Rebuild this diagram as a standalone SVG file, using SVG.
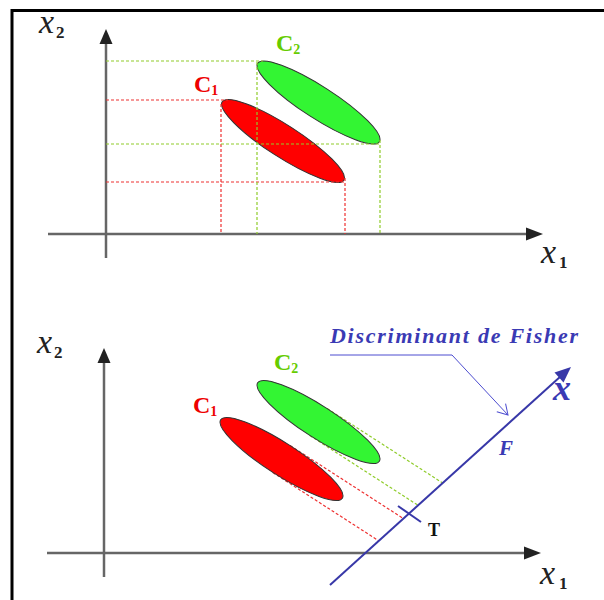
<svg xmlns="http://www.w3.org/2000/svg" width="604" height="600" viewBox="0 0 604 600">
<style>
.frame{stroke:#000;stroke-width:3;fill:none}
.axis{stroke:#666;stroke-width:2.5;fill:none}
.head{fill:#222}
.gd{stroke:#8fcc2a;stroke-width:1.2;stroke-dasharray:3,2;fill:none}
.rd{stroke:#ee3030;stroke-width:1.2;stroke-dasharray:3,2;fill:none}
.ge{fill:#33f533;stroke:#333;stroke-width:1}
.re{fill:#ff0000;stroke:#333;stroke-width:1}
.var{font-family:"Liberation Serif",serif;font-style:italic;font-size:34px;fill:#222}
.sub{font-family:"Liberation Serif",serif;font-weight:bold;font-size:17px;fill:#222}
.cg{font-family:"Liberation Serif",serif;font-weight:bold;font-size:24px;fill:#66cc00}
.cr{font-family:"Liberation Serif",serif;font-weight:bold;font-size:24px;fill:#ee0000}
.csub{font-size:14px}
.blue{font-family:"Liberation Serif",serif;font-weight:bold;font-style:italic;fill:#3a3ab4}
.fl{stroke:#3838a8;stroke-width:2;fill:none}
.lead{stroke:#4d4dd0;stroke-width:1;fill:none}
</style>
<defs>
<marker id="chev" markerWidth="14" markerHeight="14" refX="12" refY="7" orient="auto" markerUnits="userSpaceOnUse">
<path d="M2,1 L12,7 L2,13" fill="none" stroke="#4d4dd0" stroke-width="1"/>
</marker>
</defs>
<rect width="604" height="600" fill="#fff"/>
<path class="frame" d="M12,600 V10.5 H604"/>

<!-- Top plot -->
<g id="top-axes">
<line class="axis" x1="106" y1="42" x2="106" y2="258"/>
<polygon class="head" points="106,29 99.5,44 112.5,44"/>
<line class="axis" x1="48" y1="234" x2="528" y2="234"/>
<polygon class="head" points="543,234 526,227.5 526,240.5"/>
<text class="var" x="39" y="33">x</text><text class="sub" x="56" y="38">2</text>
<text class="var" x="541" y="263">x</text><text class="sub" x="559" y="268">1</text>
</g>
<g id="top-C2">
<ellipse class="ge" cx="318.5" cy="102.5" rx="72.4" ry="16" transform="rotate(32.8 318.5 102.5)"/>
<text class="cg" x="276" y="51">C<tspan class="csub" dy="3">2</tspan></text>
</g>
<g id="top-C1">
<ellipse class="re" cx="283" cy="141" rx="72.4" ry="16" transform="rotate(32.8 283 141)"/>
<text class="cr" x="194" y="92">C<tspan class="csub" dy="3">1</tspan></text>
</g>
<g id="top-guides">
<path class="rd" d="M106,100 H228 M221,104 V234 M106,182 H345 M345,178 V234"/>
<path class="gd" d="M106,61 H263 M257,62 V234 M106,144 H380 M380,140 V234"/>
</g>

<!-- Bottom plot -->
<g id="bottom-axes">
<line class="axis" x1="104" y1="360" x2="104" y2="577"/>
<polygon class="head" points="104,348 97.5,363 110.5,363"/>
<line class="axis" x1="47" y1="553" x2="526" y2="553"/>
<polygon class="head" points="541,553 524,546.5 524,559.5"/>
<text class="var" x="37" y="353">x</text><text class="sub" x="54" y="358">2</text>
<text class="var" x="540" y="584">x</text><text class="sub" x="559" y="589">1</text>
</g>
<g id="connectors">
<path class="gd" d="M327.2,408.6 L442.8,483.1 M309.8,435.5 L418.1,505.3"/>
<path class="rd" d="M290.2,445.6 L403.5,518.6 M272.8,472.5 L378.9,540.9"/>
<polyline class="lead" points="330,355 452,355 508,415" marker-end="url(#chev)"/>
</g>
<g id="bottom-C2">
<ellipse class="ge" cx="318.5" cy="422" rx="72.4" ry="16" transform="rotate(32.8 318.5 422)"/>
<text class="cg" x="274" y="370">C<tspan class="csub" dy="3">2</tspan></text>
</g>
<g id="bottom-C1">
<ellipse class="re" cx="281.5" cy="459" rx="72.4" ry="16" transform="rotate(32.8 281.5 459)"/>
<text class="cr" x="193" y="413">C<tspan class="csub" dy="3">1</tspan></text>
</g>
<g id="fisher-axis">
<line class="fl" x1="330" y1="585" x2="561" y2="376"/>
<polygon points="571,367 554.5,372.5 563.5,382.5" fill="#3838a8"/>
<line class="fl" x1="398" y1="506" x2="421" y2="522"/>
<text x="428" y="536" font-family="Liberation Serif, serif" font-weight="bold" font-size="18" fill="#111">T</text>
<text class="blue" x="499" y="455" font-size="21">F</text>
<text class="blue" x="553" y="400" font-size="36">x</text>
</g>
<g id="label-fisher">
<text class="blue" x="330" y="343" font-size="22" textLength="248" lengthAdjust="spacing">Discriminant de Fisher</text>
</g>
</svg>
